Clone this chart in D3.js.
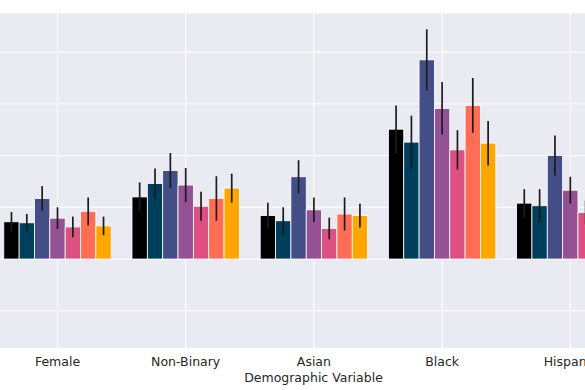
<!DOCTYPE html>
<html>
<head>
<meta charset="utf-8">
<script src="https://cdn.jsdelivr.net/npm/d3@7"></script>
<style>
  body { margin: 0; background: #fff; }
  svg { display: block; font-family: "DejaVu Sans", sans-serif; }
</style>
</head>
<body>
<svg width="585" height="390"></svg>
<script>
// data (y axis labels are cropped in the reference)
const categories = ["Female", "Non-Binary", "Asian", "Black", "Hispanic"];
const series = ["S1", "S2", "S3", "S4", "S5", "S6", "S7"];
const colors = ["#000000", "#003f5c", "#444e86", "#955196", "#dd5182", "#ff6e54", "#ffa600"];

// values per category, one per series
const means = [
  [0.072, 0.070, 0.117, 0.079, 0.062, 0.092, 0.064],
  [0.120, 0.146, 0.171, 0.143, 0.102, 0.117, 0.137],
  [0.084, 0.074, 0.159, 0.095, 0.059, 0.087, 0.084],
  [0.251, 0.226, 0.385, 0.291, 0.211, 0.297, 0.224],
  [0.108, 0.103, 0.200, 0.133, 0.090, 0.110, 0.100],
];
// half length of the error bars
const errors = [
  [0.019, 0.017, 0.024, 0.021, 0.020, 0.027, 0.018],
  [0.028, 0.029, 0.034, 0.033, 0.028, 0.043, 0.028],
  [0.025, 0.026, 0.032, 0.024, 0.021, 0.032, 0.023],
  [0.046, 0.051, 0.059, 0.051, 0.038, 0.053, 0.043],
  [0.027, 0.032, 0.039, 0.026, 0.023, 0.030, 0.030],
];
const yTicks = [-0.1, 0, 0.1, 0.2, 0.3, 0.4];

const svg = d3.select("svg");
const width = 585, height = 390;

// plot area (left edge is cut off like in the reference)
const plotTop = 13.3, plotBottom = 348;
const step = 128.2;
const firstCenter = 57.5;

const x0 = d3.scaleBand()
  .domain(categories)
  .range([firstCenter - step / 2, firstCenter + step * (categories.length - 0.5)])
  .paddingInner(0).paddingOuter(0);

const groupPad = (step - 107.4) / 2;
const x1 = d3.scaleBand()
  .domain(series)
  .range([groupPad, x0.bandwidth() - groupPad])
  .padding(0);

const y = d3.scaleLinear()
  .domain([-0.172, 0.475])
  .range([plotBottom, plotTop]);

// background
svg.append("rect")
  .attr("x", 0).attr("y", plotTop)
  .attr("width", width).attr("height", plotBottom - plotTop)
  .attr("fill", "#eaeaf2");

// grid
svg.append("g").selectAll("line")
  .data(yTicks)
  .join("line")
  .attr("x1", 0).attr("x2", width)
  .attr("y1", d => y(d)).attr("y2", d => y(d))
  .attr("stroke", "#fff").attr("stroke-width", 1);

svg.append("g").selectAll("line")
  .data(categories)
  .join("line")
  .attr("x1", d => x0(d) + x0.bandwidth() / 2)
  .attr("x2", d => x0(d) + x0.bandwidth() / 2)
  .attr("y1", plotTop).attr("y2", plotBottom)
  .attr("stroke", "#fff").attr("stroke-width", 1);

// bars
const rows = [];
categories.forEach((c, i) => {
  series.forEach((s, j) => {
    rows.push({ cat: c, ser: s, j, v: means[i][j], e: errors[i][j] });
  });
});

const groups = svg.append("g");

groups.selectAll("rect")
  .data(rows)
  .join("rect")
  .attr("x", d => x0(d.cat) + x1(d.ser))
  .attr("y", d => y(Math.max(0, d.v)))
  .attr("width", x1.bandwidth())
  .attr("height", d => Math.abs(y(d.v) - y(0)))
  .attr("fill", d => colors[d.j])
  .attr("stroke", "#fff")
  .attr("stroke-width", 0.8);

// error bars
groups.selectAll("line")
  .data(rows)
  .join("line")
  .attr("x1", d => x0(d.cat) + x1(d.ser) + x1.bandwidth() / 2)
  .attr("x2", d => x0(d.cat) + x1(d.ser) + x1.bandwidth() / 2)
  .attr("y1", d => y(d.v - d.e))
  .attr("y2", d => y(d.v + d.e))
  .attr("stroke", "#1c1c1c")
  .attr("stroke-width", 1.7);

// x tick labels
svg.append("g").selectAll("text")
  .data(categories)
  .join("text")
  .attr("x", d => x0(d) + x0.bandwidth() / 2)
  .attr("y", 365.5)
  .attr("text-anchor", "middle")
  .attr("font-size", 12.5)
  .attr("fill", "#262626")
  .text(d => d);

// axis title
svg.append("text")
  .attr("x", 313.5)
  .attr("y", 382)
  .attr("text-anchor", "middle")
  .attr("font-size", 12.5)
  .attr("fill", "#262626")
  .text("Demographic Variable");
</script>
</body>
</html>
